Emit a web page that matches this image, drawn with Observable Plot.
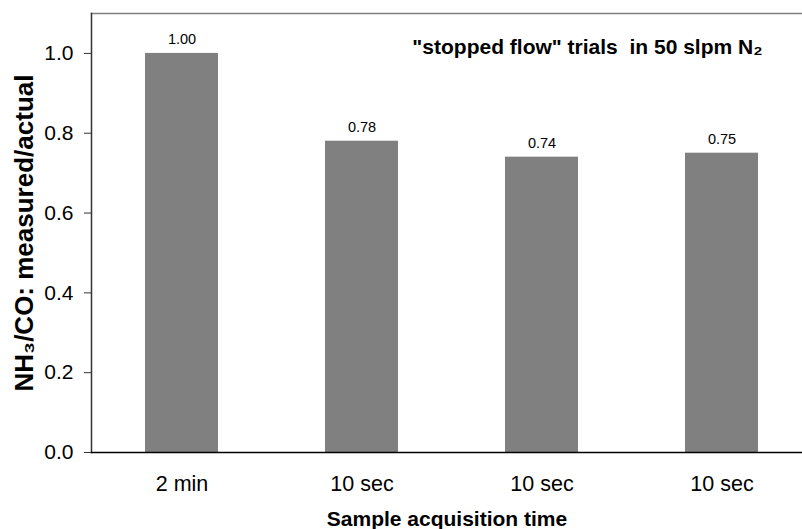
<!DOCTYPE html>
<html>
<head>
<meta charset="utf-8">
<script src="https://cdn.jsdelivr.net/npm/d3@7"></script>
<script src="https://cdn.jsdelivr.net/npm/@observablehq/plot@0.6"></script>
<style>
  html, body { margin: 0; padding: 0; background: #fff; }
</style>
</head>
<body>
<div id="chart"></div>
<script>
const trialIds = ["t1", "t2", "t3", "t4"];
const categories = ["2 min", "10 sec", "10 sec", "10 sec"];
const values = [1.00, 0.78, 0.74, 0.75];
const valueLabels = ["1.00", "0.78", "0.74", "0.75"];
const yTicks = [0, 0.2, 0.4, 0.6, 0.8, 1.0];
const title = "\"stopped flow\" trials  in 50 slpm N\u2082";
const yLabel = "NH\u2083/CO: measured/actual";
const xLabel = "Sample acquisition time";

const data = trialIds.map((id, i) => ({id, cat: categories[i], v: values[i], lab: valueLabels[i]}));
const font = "'Liberation Sans', Arial, Helvetica, sans-serif";

const chart = Plot.plot({
  width: 802,
  height: 529,
  marginLeft: 91,
  marginRight: 0,
  marginTop: 13,
  marginBottom: 77,
  style: {fontFamily: font, background: "#fff", color: "#000"},
  x: {domain: trialIds, range: [91, 811], paddingInner: 0.595, paddingOuter: 0.2975, align: 0.5},
  y: {domain: [0, 1.1], range: [452, 13]},
  marks: [
    Plot.barY(data, {x: "id", y: "v", fill: "#808080"}),
    Plot.text(data, {x: "id", y: "v", text: "lab", dy: -14, fontSize: 14.5, fill: "#000"}),
    Plot.frame({anchor: "top", stroke: "#808080", strokeWidth: 1.5}),
    Plot.frame({anchor: "left", stroke: "#333", strokeWidth: 1.5}),
    Plot.frame({anchor: "bottom", stroke: "#000", strokeWidth: 1.5}),
    Plot.axisY({ticks: yTicks, tickFormat: d3.format(".1f"), tickSize: 7, tickPadding: 11, fontSize: 21, label: null, stroke: "#333"}),
    Plot.axisX({tickSize: 0, tickPadding: 23, fontSize: 21.5, tickFormat: (d) => categories[trialIds.indexOf(d)], label: null}),
    Plot.text([title], {frameAnchor: "top-right", dx: -40, dy: 34, textAnchor: "end", lineAnchor: "middle", fontSize: 21, fontWeight: "bold", fill: "#000"}),
    Plot.text([yLabel], {frameAnchor: "left", dx: -67, rotate: -90, textAnchor: "middle", lineAnchor: "middle", fontSize: 26, fontWeight: "bold", fill: "#000"}),
    Plot.text([xLabel], {frameAnchor: "bottom", dy: 67, lineAnchor: "middle", fontSize: 21, fontWeight: "bold", fill: "#000"})
  ]
});
document.getElementById("chart").appendChild(chart);
</script>
</body>
</html>
